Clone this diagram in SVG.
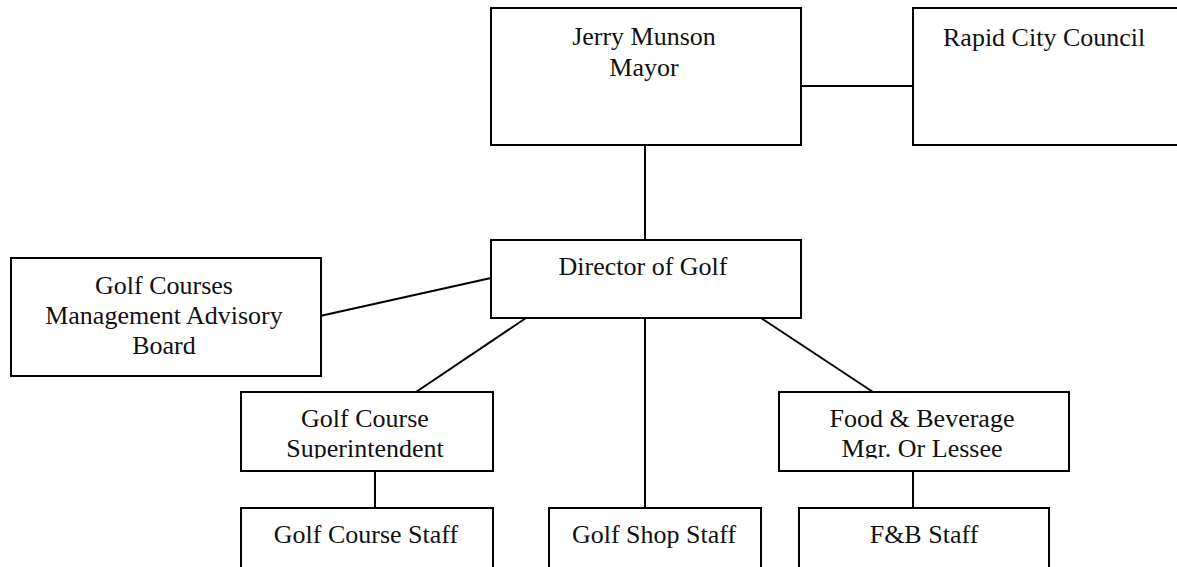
<svg xmlns="http://www.w3.org/2000/svg" width="1177" height="567" viewBox="0 0 1177 567">
<style>
.box{fill:#fff;stroke:#000;stroke-width:2}
.ln{stroke:#000;stroke-width:2;fill:none}
text{font-family:"Liberation Serif","Times New Roman",serif;font-size:26px;fill:#111}
.c{text-anchor:middle}
</style>
<defs>
<clipPath id="clipSup"><rect x="241" y="392" width="252" height="66.5"/></clipPath>
<clipPath id="clipFood"><rect x="779" y="392" width="290" height="66.5"/></clipPath>
</defs>
<rect width="1177" height="567" fill="#fff"/>
<g id="connectors">
<line class="ln" x1="798" y1="86" x2="913" y2="86"/>
<line class="ln" x1="645" y1="145" x2="645" y2="240"/>
<line class="ln" x1="320" y1="316" x2="491" y2="278"/>
<line class="ln" x1="529" y1="316" x2="416" y2="392"/>
<line class="ln" x1="645" y1="316" x2="645" y2="508"/>
<line class="ln" x1="758" y1="316" x2="873" y2="392"/>
<line class="ln" x1="375" y1="469" x2="375" y2="508"/>
<line class="ln" x1="913" y1="469" x2="913" y2="508"/>
</g>
<g id="mayor">
<rect class="box" x="491" y="8" width="310" height="137"/>
<text class="c" x="644" y="45">Jerry Munson</text>
<text class="c" x="644" y="76">Mayor</text>
</g>
<g id="council">
<rect class="box" x="913" y="8" width="310" height="137"/>
<text x="943" y="46">Rapid City Council</text>
</g>
<g id="director">
<rect class="box" x="491" y="240" width="310" height="78"/>
<text class="c" x="643" y="275">Director of Golf</text>
</g>
<g id="advisory">
<rect class="box" x="11" y="258" width="310" height="118"/>
<text class="c" x="164" y="294">Golf Courses</text>
<text class="c" x="164" y="324">Management Advisory</text>
<text class="c" x="164" y="354">Board</text>
</g>
<g id="superintendent">
<rect class="box" x="241" y="392" width="252" height="79"/>
<g clip-path="url(#clipSup)">
<text class="c" x="365" y="427">Golf Course</text>
<text class="c" x="365" y="457">Superintendent</text>
</g>
</g>
<g id="food">
<rect class="box" x="779" y="392" width="290" height="79"/>
<g clip-path="url(#clipFood)">
<text class="c" x="922" y="427">Food &amp; Beverage</text>
<text class="c" x="922" y="457">Mgr. Or Lessee</text>
</g>
</g>
<g id="courseStaff">
<rect class="box" x="241" y="508" width="252" height="80"/>
<text class="c" x="366" y="543">Golf Course Staff</text>
</g>
<g id="shopStaff">
<rect class="box" x="549" y="508" width="212" height="80"/>
<text class="c" x="654" y="543">Golf Shop Staff</text>
</g>
<g id="fbStaff">
<rect class="box" x="799" y="508" width="250" height="80"/>
<text class="c" x="924" y="543">F&amp;B Staff</text>
</g>
</svg>
